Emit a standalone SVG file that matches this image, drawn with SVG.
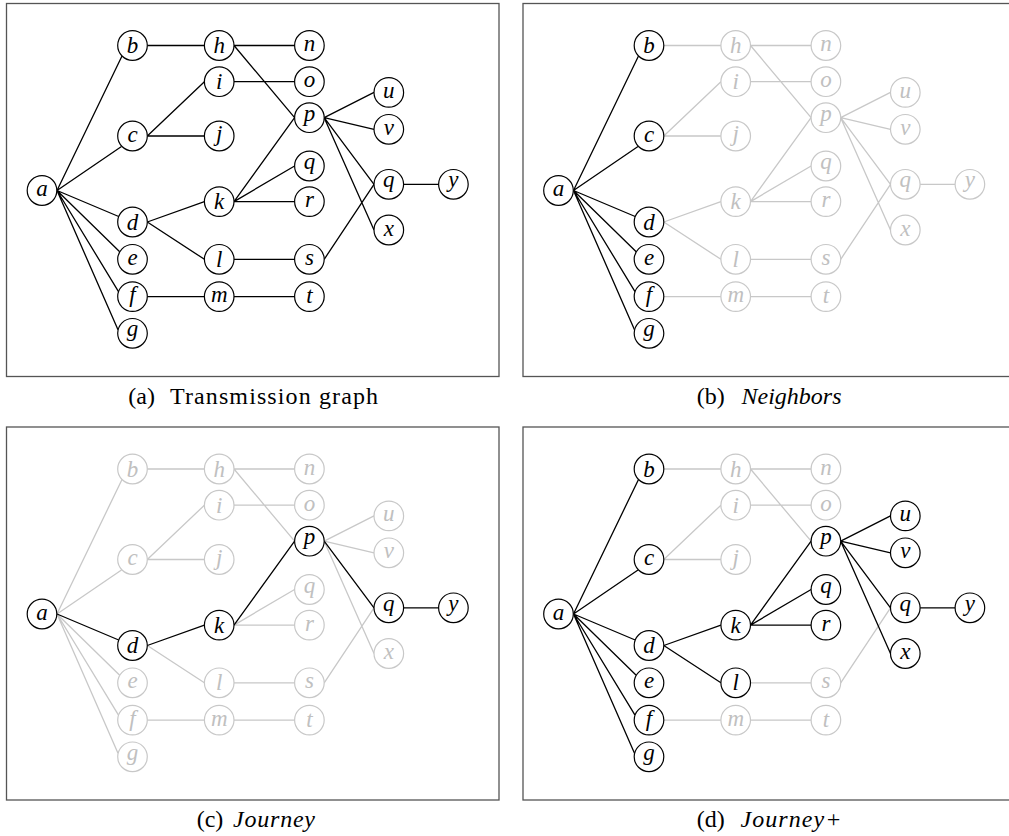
<svg xmlns="http://www.w3.org/2000/svg" width="1009" height="836" viewBox="0 0 1009 836">
<defs>
<style>
.frame{fill:none;stroke:#555;stroke-width:1.3}
.eb{fill:none;stroke:#000;stroke-width:1.3}
.eg{fill:none;stroke:#c8c8c8;stroke-width:1.3}
.nb circle{fill:#fff;stroke:#000;stroke-width:1.2}
.ng circle{fill:#fff;stroke:#c8c8c8;stroke-width:1.2}
.nb text,.ng text{font-family:"Liberation Serif",serif;font-style:italic;font-size:23px;text-anchor:middle}
.nb text{fill:#000}
.ng text{fill:#c0c0c0}
.cap{font-family:"Liberation Serif",serif;font-size:24px;fill:#000}
.capi{font-family:"Liberation Serif",serif;font-size:24px;font-style:italic;fill:#000}
</style>
</defs>
<rect width="1009" height="836" fill="#fff"/>

<!-- Panel (a) -->
<g id="panel-a">
<rect class="frame" x="6.5" y="3.5" width="492.5" height="373"/>
<g id="a-edges">
<path class="eb" d="M57 190.5L122 56M57 190.5L121.5 146.5M57 190.5L118.7 216.5M57 190.5L119.7 251.8M57 190.5L118.5 291.6M57 190.5L118 329.8"/>
<path class="eb" d="M147.3 45.5H204.4M234 45.5H294.6M234 45.5L294.6 117.7M147.3 136L204.4 81.7M147.3 136H204.4M234 81.7H294.6M147.3 222L204.4 201.6M147.3 222L204.4 259.3M234 201.6L294.6 117.7M234 201.6L294.6 166M234 201.6H294.6M234 259.3H294.6M324.2 259.3L374 184.3M147.3 296.6H204.4M234 296.6H294.6M324.2 117.7L374 92.4M324.2 117.7L374 129.3M324.2 117.7L374 184.3M324.2 117.7L374 230M403.6 184.3H438.6"/>
</g>
<g id="a-a" class="nb"><circle cx="42" cy="190.5" r="14.8"/><text x="42" y="196">a</text></g>
<g id="a-b" class="nb"><circle cx="132.5" cy="45.5" r="14.8"/><text x="132.5" y="53">b</text></g>
<g id="a-c" class="nb"><circle cx="132.5" cy="136" r="14.8"/><text x="132.5" y="141.5">c</text></g>
<g id="a-d" class="nb"><circle cx="132.5" cy="222" r="14.8"/><text x="132.5" y="229.5">d</text></g>
<g id="a-e" class="nb"><circle cx="132.5" cy="259.3" r="14.8"/><text x="132.5" y="264.8">e</text></g>
<g id="a-f" class="nb"><circle cx="132.5" cy="296.6" r="14.8"/><text x="132.5" y="302.1">f</text></g>
<g id="a-g" class="nb"><circle cx="132.5" cy="333.3" r="14.8"/><text x="132.5" y="336.3">g</text></g>
<g id="a-h" class="nb"><circle cx="219.2" cy="45.5" r="14.8"/><text x="219.2" y="53">h</text></g>
<g id="a-i" class="nb"><circle cx="219.2" cy="81.7" r="14.8"/><text x="219.2" y="89.2">i</text></g>
<g id="a-j" class="nb"><circle cx="219.2" cy="136" r="14.8"/><text x="219.2" y="141">j</text></g>
<g id="a-k" class="nb"><circle cx="219.2" cy="201.6" r="14.8"/><text x="219.2" y="209.1">k</text></g>
<g id="a-l" class="nb"><circle cx="219.2" cy="259.3" r="14.8"/><text x="219.2" y="266.8">l</text></g>
<g id="a-m" class="nb"><circle cx="219.2" cy="296.6" r="14.8"/><text x="219.2" y="302.1">m</text></g>
<g id="a-n" class="nb"><circle cx="309.4" cy="45.5" r="14.8"/><text x="309.4" y="51">n</text></g>
<g id="a-o" class="nb"><circle cx="309.4" cy="81.7" r="14.8"/><text x="309.4" y="87.2">o</text></g>
<g id="a-p" class="nb"><circle cx="309.4" cy="117.7" r="14.8"/><text x="309.4" y="120.7">p</text></g>
<g id="a-q1" class="nb"><circle cx="309.4" cy="166" r="14.8"/><text x="309.4" y="169">q</text></g>
<g id="a-r" class="nb"><circle cx="309.4" cy="201.6" r="14.8"/><text x="309.4" y="207.1">r</text></g>
<g id="a-s" class="nb"><circle cx="309.4" cy="259.3" r="14.8"/><text x="309.4" y="264.8">s</text></g>
<g id="a-t" class="nb"><circle cx="309.4" cy="296.6" r="14.8"/><text x="309.4" y="303.1">t</text></g>
<g id="a-u" class="nb"><circle cx="388.8" cy="92.4" r="14.8"/><text x="388.8" y="97.9">u</text></g>
<g id="a-v" class="nb"><circle cx="388.8" cy="129.3" r="14.8"/><text x="388.8" y="134.8">v</text></g>
<g id="a-q2" class="nb"><circle cx="388.8" cy="184.3" r="14.8"/><text x="388.8" y="187.3">q</text></g>
<g id="a-x" class="nb"><circle cx="388.8" cy="230" r="14.8"/><text x="388.8" y="235.5">x</text></g>
<g id="a-y" class="nb"><circle cx="453.4" cy="184.3" r="14.8"/><text x="453.4" y="187.3">y</text></g>
<text class="cap" x="128.3" y="404">(a)</text>
<text class="cap" x="170" y="404" textLength="208" lengthAdjust="spacing">Transmission graph</text>
</g>

<!-- Panel (b) -->
<g id="panel-b" transform="translate(516.5,0)">
<rect class="frame" x="6.5" y="3.5" width="492.5" height="373"/>
<g id="b-edges">
<path class="eg" d="M147.3 45.5H204.4M234 45.5H294.6M234 45.5L294.6 117.7M147.3 136L204.4 81.7M147.3 136H204.4M234 81.7H294.6M147.3 222L204.4 201.6M147.3 222L204.4 259.3M234 201.6L294.6 117.7M234 201.6L294.6 166M234 201.6H294.6M234 259.3H294.6M324.2 259.3L374 184.3M147.3 296.6H204.4M234 296.6H294.6M324.2 117.7L374 92.4M324.2 117.7L374 129.3M324.2 117.7L374 184.3M324.2 117.7L374 230M403.6 184.3H438.6"/>
<path class="eb" d="M57 190.5L122 56M57 190.5L121.5 146.5M57 190.5L118.7 216.5M57 190.5L119.7 251.8M57 190.5L118.5 291.6M57 190.5L118 329.8"/>
</g>
<g id="b-a" class="nb"><circle cx="42" cy="190.5" r="14.8"/><text x="42" y="196">a</text></g>
<g id="b-b" class="nb"><circle cx="132.5" cy="45.5" r="14.8"/><text x="132.5" y="53">b</text></g>
<g id="b-c" class="nb"><circle cx="132.5" cy="136" r="14.8"/><text x="132.5" y="141.5">c</text></g>
<g id="b-d" class="nb"><circle cx="132.5" cy="222" r="14.8"/><text x="132.5" y="229.5">d</text></g>
<g id="b-e" class="nb"><circle cx="132.5" cy="259.3" r="14.8"/><text x="132.5" y="264.8">e</text></g>
<g id="b-f" class="nb"><circle cx="132.5" cy="296.6" r="14.8"/><text x="132.5" y="302.1">f</text></g>
<g id="b-g" class="nb"><circle cx="132.5" cy="333.3" r="14.8"/><text x="132.5" y="336.3">g</text></g>
<g id="b-h" class="ng"><circle cx="219.2" cy="45.5" r="14.8"/><text x="219.2" y="53">h</text></g>
<g id="b-i" class="ng"><circle cx="219.2" cy="81.7" r="14.8"/><text x="219.2" y="89.2">i</text></g>
<g id="b-j" class="ng"><circle cx="219.2" cy="136" r="14.8"/><text x="219.2" y="141">j</text></g>
<g id="b-k" class="ng"><circle cx="219.2" cy="201.6" r="14.8"/><text x="219.2" y="209.1">k</text></g>
<g id="b-l" class="ng"><circle cx="219.2" cy="259.3" r="14.8"/><text x="219.2" y="266.8">l</text></g>
<g id="b-m" class="ng"><circle cx="219.2" cy="296.6" r="14.8"/><text x="219.2" y="302.1">m</text></g>
<g id="b-n" class="ng"><circle cx="309.4" cy="45.5" r="14.8"/><text x="309.4" y="51">n</text></g>
<g id="b-o" class="ng"><circle cx="309.4" cy="81.7" r="14.8"/><text x="309.4" y="87.2">o</text></g>
<g id="b-p" class="ng"><circle cx="309.4" cy="117.7" r="14.8"/><text x="309.4" y="120.7">p</text></g>
<g id="b-q1" class="ng"><circle cx="309.4" cy="166" r="14.8"/><text x="309.4" y="169">q</text></g>
<g id="b-r" class="ng"><circle cx="309.4" cy="201.6" r="14.8"/><text x="309.4" y="207.1">r</text></g>
<g id="b-s" class="ng"><circle cx="309.4" cy="259.3" r="14.8"/><text x="309.4" y="264.8">s</text></g>
<g id="b-t" class="ng"><circle cx="309.4" cy="296.6" r="14.8"/><text x="309.4" y="303.1">t</text></g>
<g id="b-u" class="ng"><circle cx="388.8" cy="92.4" r="14.8"/><text x="388.8" y="97.9">u</text></g>
<g id="b-v" class="ng"><circle cx="388.8" cy="129.3" r="14.8"/><text x="388.8" y="134.8">v</text></g>
<g id="b-q2" class="ng"><circle cx="388.8" cy="184.3" r="14.8"/><text x="388.8" y="187.3">q</text></g>
<g id="b-x" class="ng"><circle cx="388.8" cy="230" r="14.8"/><text x="388.8" y="235.5">x</text></g>
<g id="b-y" class="ng"><circle cx="453.4" cy="184.3" r="14.8"/><text x="453.4" y="187.3">y</text></g>
<text class="cap" x="180.2" y="404">(b)</text>
<text class="capi" x="225" y="404" textLength="100" lengthAdjust="spacing">Neighbors</text>
</g>

<!-- Panel (c) -->
<g id="panel-c" transform="translate(0,423.5)">
<rect class="frame" x="6.5" y="3.5" width="492.5" height="373"/>
<g id="c-edges">
<path class="eg" d="M57 190.5L122 56M57 190.5L121.5 146.5M57 190.5L119.7 251.8M57 190.5L118.5 291.6M57 190.5L118 329.8"/>
<path class="eg" d="M147.3 45.5H204.4M234 45.5H294.6M234 45.5L294.6 117.7M147.3 136L204.4 81.7M147.3 136H204.4M234 81.7H294.6M147.3 222L204.4 259.3M234 201.6L294.6 166M234 201.6H294.6M234 259.3H294.6M324.2 259.3L374 184.3M147.3 296.6H204.4M234 296.6H294.6M324.2 117.7L374 92.4M324.2 117.7L374 129.3M324.2 117.7L374 230"/>
<path class="eb" d="M57 190.5L118.7 216.5M147.3 222L204.4 201.6M234 201.6L294.6 117.7M324.2 117.7L374 184.3M403.6 184.3H438.6"/>
</g>
<g id="c-a" class="nb"><circle cx="42" cy="190.5" r="14.8"/><text x="42" y="196">a</text></g>
<g id="c-b" class="ng"><circle cx="132.5" cy="45.5" r="14.8"/><text x="132.5" y="53">b</text></g>
<g id="c-c" class="ng"><circle cx="132.5" cy="136" r="14.8"/><text x="132.5" y="141.5">c</text></g>
<g id="c-d" class="nb"><circle cx="132.5" cy="222" r="14.8"/><text x="132.5" y="229.5">d</text></g>
<g id="c-e" class="ng"><circle cx="132.5" cy="259.3" r="14.8"/><text x="132.5" y="264.8">e</text></g>
<g id="c-f" class="ng"><circle cx="132.5" cy="296.6" r="14.8"/><text x="132.5" y="302.1">f</text></g>
<g id="c-g" class="ng"><circle cx="132.5" cy="333.3" r="14.8"/><text x="132.5" y="336.3">g</text></g>
<g id="c-h" class="ng"><circle cx="219.2" cy="45.5" r="14.8"/><text x="219.2" y="53">h</text></g>
<g id="c-i" class="ng"><circle cx="219.2" cy="81.7" r="14.8"/><text x="219.2" y="89.2">i</text></g>
<g id="c-j" class="ng"><circle cx="219.2" cy="136" r="14.8"/><text x="219.2" y="141">j</text></g>
<g id="c-k" class="nb"><circle cx="219.2" cy="201.6" r="14.8"/><text x="219.2" y="209.1">k</text></g>
<g id="c-l" class="ng"><circle cx="219.2" cy="259.3" r="14.8"/><text x="219.2" y="266.8">l</text></g>
<g id="c-m" class="ng"><circle cx="219.2" cy="296.6" r="14.8"/><text x="219.2" y="302.1">m</text></g>
<g id="c-n" class="ng"><circle cx="309.4" cy="45.5" r="14.8"/><text x="309.4" y="51">n</text></g>
<g id="c-o" class="ng"><circle cx="309.4" cy="81.7" r="14.8"/><text x="309.4" y="87.2">o</text></g>
<g id="c-p" class="nb"><circle cx="309.4" cy="117.7" r="14.8"/><text x="309.4" y="120.7">p</text></g>
<g id="c-q1" class="ng"><circle cx="309.4" cy="166" r="14.8"/><text x="309.4" y="169">q</text></g>
<g id="c-r" class="ng"><circle cx="309.4" cy="201.6" r="14.8"/><text x="309.4" y="207.1">r</text></g>
<g id="c-s" class="ng"><circle cx="309.4" cy="259.3" r="14.8"/><text x="309.4" y="264.8">s</text></g>
<g id="c-t" class="ng"><circle cx="309.4" cy="296.6" r="14.8"/><text x="309.4" y="303.1">t</text></g>
<g id="c-u" class="ng"><circle cx="388.8" cy="92.4" r="14.8"/><text x="388.8" y="97.9">u</text></g>
<g id="c-v" class="ng"><circle cx="388.8" cy="129.3" r="14.8"/><text x="388.8" y="134.8">v</text></g>
<g id="c-q2" class="nb"><circle cx="388.8" cy="184.3" r="14.8"/><text x="388.8" y="187.3">q</text></g>
<g id="c-x" class="ng"><circle cx="388.8" cy="230" r="14.8"/><text x="388.8" y="235.5">x</text></g>
<g id="c-y" class="nb"><circle cx="453.4" cy="184.3" r="14.8"/><text x="453.4" y="187.3">y</text></g>
<text class="cap" x="196.7" y="403.5">(c)</text>
<text class="capi" x="233" y="403.5" textLength="82" lengthAdjust="spacing">Journey</text>
</g>

<!-- Panel (d) -->
<g id="panel-d" transform="translate(516.5,423.5)">
<rect class="frame" x="6.5" y="3.5" width="492.5" height="373"/>
<g id="d-edges">
<path class="eg" d="M147.3 45.5H204.4M234 45.5H294.6M234 45.5L294.6 117.7M147.3 136L204.4 81.7M147.3 136H204.4M234 81.7H294.6M234 259.3H294.6M324.2 259.3L374 184.3M147.3 296.6H204.4M234 296.6H294.6"/>
<path class="eb" d="M57 190.5L122 56M57 190.5L121.5 146.5M57 190.5L118.7 216.5M57 190.5L119.7 251.8M57 190.5L118.5 291.6M57 190.5L118 329.8"/>
<path class="eb" d="M147.3 222L204.4 201.6M147.3 222L204.4 259.3M234 201.6L294.6 117.7M234 201.6L294.6 166M234 201.6H294.6M324.2 117.7L374 92.4M324.2 117.7L374 129.3M324.2 117.7L374 184.3M324.2 117.7L374 230M403.6 184.3H438.6"/>
</g>
<g id="d-a" class="nb"><circle cx="42" cy="190.5" r="14.8"/><text x="42" y="196">a</text></g>
<g id="d-b" class="nb"><circle cx="132.5" cy="45.5" r="14.8"/><text x="132.5" y="53">b</text></g>
<g id="d-c" class="nb"><circle cx="132.5" cy="136" r="14.8"/><text x="132.5" y="141.5">c</text></g>
<g id="d-d" class="nb"><circle cx="132.5" cy="222" r="14.8"/><text x="132.5" y="229.5">d</text></g>
<g id="d-e" class="nb"><circle cx="132.5" cy="259.3" r="14.8"/><text x="132.5" y="264.8">e</text></g>
<g id="d-f" class="nb"><circle cx="132.5" cy="296.6" r="14.8"/><text x="132.5" y="302.1">f</text></g>
<g id="d-g" class="nb"><circle cx="132.5" cy="333.3" r="14.8"/><text x="132.5" y="336.3">g</text></g>
<g id="d-h" class="ng"><circle cx="219.2" cy="45.5" r="14.8"/><text x="219.2" y="53">h</text></g>
<g id="d-i" class="ng"><circle cx="219.2" cy="81.7" r="14.8"/><text x="219.2" y="89.2">i</text></g>
<g id="d-j" class="ng"><circle cx="219.2" cy="136" r="14.8"/><text x="219.2" y="141">j</text></g>
<g id="d-k" class="nb"><circle cx="219.2" cy="201.6" r="14.8"/><text x="219.2" y="209.1">k</text></g>
<g id="d-l" class="nb"><circle cx="219.2" cy="259.3" r="14.8"/><text x="219.2" y="266.8">l</text></g>
<g id="d-m" class="ng"><circle cx="219.2" cy="296.6" r="14.8"/><text x="219.2" y="302.1">m</text></g>
<g id="d-n" class="ng"><circle cx="309.4" cy="45.5" r="14.8"/><text x="309.4" y="51">n</text></g>
<g id="d-o" class="ng"><circle cx="309.4" cy="81.7" r="14.8"/><text x="309.4" y="87.2">o</text></g>
<g id="d-p" class="nb"><circle cx="309.4" cy="117.7" r="14.8"/><text x="309.4" y="120.7">p</text></g>
<g id="d-q1" class="nb"><circle cx="309.4" cy="166" r="14.8"/><text x="309.4" y="169">q</text></g>
<g id="d-r" class="nb"><circle cx="309.4" cy="201.6" r="14.8"/><text x="309.4" y="207.1">r</text></g>
<g id="d-s" class="ng"><circle cx="309.4" cy="259.3" r="14.8"/><text x="309.4" y="264.8">s</text></g>
<g id="d-t" class="ng"><circle cx="309.4" cy="296.6" r="14.8"/><text x="309.4" y="303.1">t</text></g>
<g id="d-u" class="nb"><circle cx="388.8" cy="92.4" r="14.8"/><text x="388.8" y="97.9">u</text></g>
<g id="d-v" class="nb"><circle cx="388.8" cy="129.3" r="14.8"/><text x="388.8" y="134.8">v</text></g>
<g id="d-q2" class="nb"><circle cx="388.8" cy="184.3" r="14.8"/><text x="388.8" y="187.3">q</text></g>
<g id="d-x" class="nb"><circle cx="388.8" cy="230" r="14.8"/><text x="388.8" y="235.5">x</text></g>
<g id="d-y" class="nb"><circle cx="453.4" cy="184.3" r="14.8"/><text x="453.4" y="187.3">y</text></g>
<text class="cap" x="180.2" y="403.5">(d)</text>
<text class="capi" x="224" y="403.5" textLength="101" lengthAdjust="spacing">Journey+</text>
</g>
</svg>
